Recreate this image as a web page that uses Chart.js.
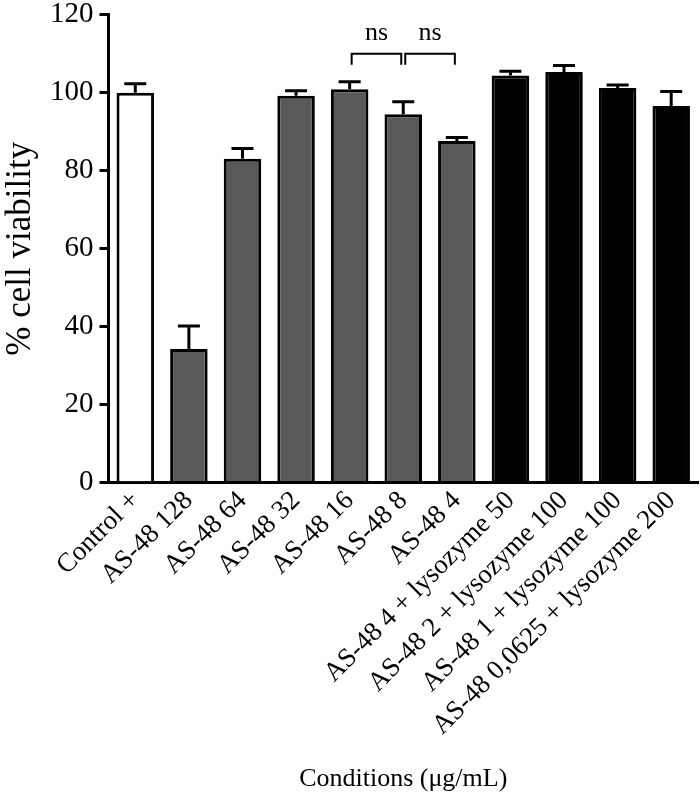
<!DOCTYPE html>
<html>
<head>
<meta charset="utf-8">
<script src="https://cdn.jsdelivr.net/npm/chart.js@4/dist/chart.umd.min.js"></script>
<style>
  html, body { margin: 0; padding: 0; background: #fff; }
  #wrap { width: 700px; height: 797px; }
</style>
</head>
<body>
<div id="wrap"><canvas id="myChart" width="700" height="797"></canvas></div>
<script>
const categories = ['Control +', 'AS-48 128', 'AS-48 64', 'AS-48 32', 'AS-48 16', 'AS-48 8', 'AS-48 4',
    'AS-48 4 + lysozyme 50', 'AS-48 2 + lysozyme 100', 'AS-48 1 + lysozyme 100', 'AS-48 0,0625 + lysozyme 200'];
const viability = [100, 34.3, 83.1, 99.2, 100.9, 94.5, 87.6, 104.4, 105.3, 101.2, 96.6];
const errorUp = [2.3, 5.9, 2.6, 1.3, 1.9, 3.2, 0.9, 1.1, 1.7, 0.8, 3.7];
const barColors = ['#ffffff', '#595959', '#595959', '#595959', '#595959', '#595959', '#595959',
    '#000000', '#000000', '#000000', '#000000'];
const yTicks = [0, 20, 40, 60, 80, 100, 120];
// comparisons: [from index, to index, label]
const comparisons = [[4, 5, 'ns'], [5, 6, 'ns']];

const serif = "'Liberation Serif', 'Times New Roman', serif";

// error bars and ns brackets
const extras = {
    id: 'extras',
    afterDatasetsDraw(chart) {
        const ctx = chart.ctx;
        const x = chart.scales.x, y = chart.scales.y;
        ctx.save();
        ctx.strokeStyle = '#000';
        ctx.lineWidth = 3;
        viability.forEach((v, i) => {
            const cx = x.getPixelForValue(i);
            const top = y.getPixelForValue(v + errorUp[i]);
            ctx.beginPath();
            ctx.moveTo(cx, y.getPixelForValue(v));
            ctx.lineTo(cx, top);
            ctx.moveTo(cx - 11, top);
            ctx.lineTo(cx + 11, top);
            ctx.stroke();
        });

        ctx.lineWidth = 2;
        ctx.fillStyle = '#000';
        ctx.font = '26px ' + serif;
        ctx.textAlign = 'center';
        ctx.textBaseline = 'alphabetic';
        comparisons.forEach(([a, b, txt]) => {
            const x1 = x.getPixelForValue(a) + 2, x2 = x.getPixelForValue(b) - 2;
            const yb = y.getPixelForValue(110), yt = y.getPixelForValue(107.2);
            ctx.beginPath();
            ctx.moveTo(x1, yt);
            ctx.lineTo(x1, yb);
            ctx.lineTo(x2, yb);
            ctx.lineTo(x2, yt);
            ctx.stroke();
            ctx.fillText(txt, (x1 + x2) / 2, y.getPixelForValue(113.6));
        });
        ctx.restore();
    }
};

const ctx = document.getElementById('myChart').getContext('2d');
const myChart = new Chart(ctx, {
    type: 'bar',
    data: {
        labels: categories,
        datasets: [{
            data: viability,
            backgroundColor: barColors,
            borderColor: '#000',
            borderWidth: 3,
            categoryPercentage: 1,
            barPercentage: 0.7
        }]
    },
    options: {
        responsive: false,
        animation: false,
        layout: { padding: { left: 0, right: 2, top: 0, bottom: 2 } },
        plugins: { legend: { display: false }, tooltip: { enabled: false } },
        scales: {
            x: {
                grid: { display: false, drawTicks: false },
                border: { display: true, color: '#000', width: 3 },
                ticks: {
                    color: '#000',
                    font: { family: serif, size: 27 },
                    autoSkip: false,
                    minRotation: 45,
                    maxRotation: 45,
                    padding: 2
                },
                title: { display: true, text: 'Conditions (\u03bcg/mL)', color: '#000', font: { family: serif, size: 26 }, padding: { top: 20, bottom: 0 } }
            },
            y: {
                min: 0,
                max: 120,
                afterBuildTicks: axis => { axis.ticks = yTicks.map(v => ({ value: v })); },
                grid: { drawOnChartArea: false, drawTicks: true, tickLength: 9, color: '#000', lineWidth: 3 },
                border: { display: true, color: '#000', width: 3 },
                ticks: { color: '#000', font: { family: serif, size: 29, lineHeight: 0.6 }, padding: 6 },
                title: { display: true, text: '% cell viability', color: '#000', font: { family: serif, size: 35 }, padding: { top: 0, bottom: 2 } }
            }
        }
    },
    plugins: [extras]
});
</script>
</body>
</html>
